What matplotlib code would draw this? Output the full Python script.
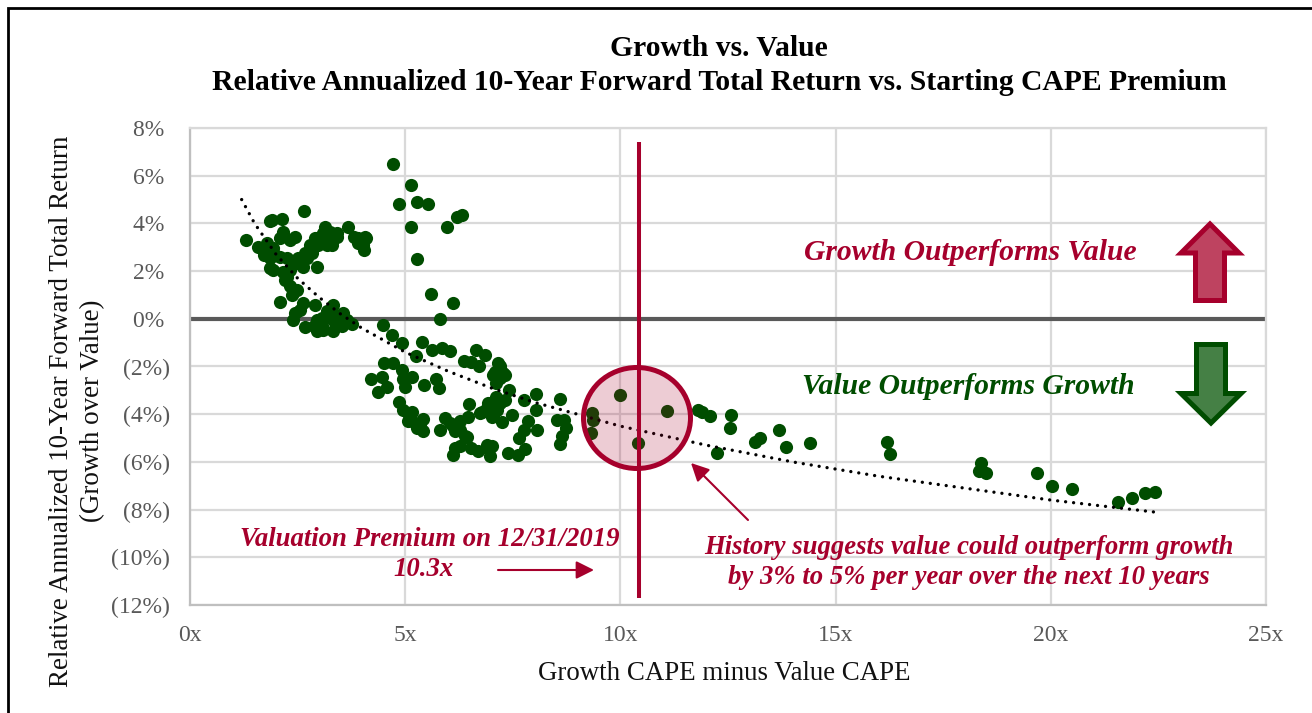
import matplotlib
matplotlib.use("Agg")
import matplotlib.pyplot as plt
from matplotlib.patches import Ellipse, Polygon, Rectangle
from matplotlib.ticker import FuncFormatter

# Values: CAPE premium (x) and relative return in % (y)
premium = [
    1.29, 1.59, 1.72, 1.86, 1.80, 1.94, 2.09, 2.25, 1.86, 1.90, 2.13, 2.65, 2.17, 2.09, 2.32, 2.44,
    1.86, 1.94, 2.17, 2.21, 2.32, 2.40, 2.36, 2.48, 2.10, 2.63, 2.56, 2.44, 2.40, 2.90, 2.67, 2.94,
    3.06, 2.94, 3.18, 3.33, 3.56, 3.33, 3.52, 3.32, 3.77, 3.18, 3.41, 2.52, 2.63, 2.71, 2.94, 2.59,
    2.79, 2.90, 3.02, 3.14, 3.18, 3.29, 3.41, 3.25, 3.68, 3.80, 4.07, 4.09, 4.03, 4.05, 3.91, 2.83,
    2.98, 4.72, 5.14, 4.86, 5.27, 5.52, 5.14, 5.96, 6.20, 6.31, 5.27, 5.59, 6.11, 5.82,
    4.49, 4.69, 4.93, 5.24, 5.39, 5.62, 5.85, 6.03, 6.64, 6.85, 6.37, 6.54, 6.71, 7.16, 7.28, 7.09,
    7.20, 7.12, 4.51, 4.72, 4.21, 4.45, 4.36, 4.57, 4.93, 5.15, 4.96, 4.99, 5.44, 5.72, 5.79, 4.86,
    4.96, 5.15, 5.07, 5.27, 5.42, 5.42, 5.92, 5.81, 6.16, 6.27, 6.47, 6.49, 6.78, 6.93, 7.11, 7.32,
    7.41, 7.75, 8.05, 8.60, 8.05, 7.05, 7.24, 7.47, 7.86, 8.06, 7.75, 7.64, 7.78, 7.63, 7.38, 8.52,
    8.69, 8.73, 8.64, 8.60, 6.43, 6.27, 6.10, 6.54, 6.68, 6.89, 7.01, 6.97, 9.35, 9.37, 9.32, 9.98,
    10.41, 11.08, 11.80, 11.90, 12.08, 12.24, 12.57, 12.55, 13.13, 13.24, 13.69, 13.85, 14.40,
    16.19, 16.26, 18.38, 18.33, 18.49, 19.68, 20.03, 20.49, 21.56, 21.89, 22.20, 22.42,
    # inside the dense clumps
    6.89, 7.13, 7.01, 6.74, 7.20, 6.12, 6.04, 6.27, 6.39, 5.07, 5.23, 5.34, 6.89, 6.16, 7.16, 7.32, 7.20, 7.05,
    3.02, 3.10, 3.25, 2.90, 3.18, 3.41, 2.67, 2.48, 2.63, 2.32, 1.74, 1.86, 1.98, 2.25, 3.06, 3.25, 3.49, 3.64,
    2.87, 3.10, 3.91,
]
rel_return = [
    3.31, 3.03, 2.68, 2.54, 3.17, 2.96, 2.61, 2.54, 4.08, 4.15, 4.18, 4.51, 3.66, 3.38, 3.31, 3.42,
    2.12, 2.05, 1.98, 1.64, 1.36, 1.08, 1.01, 1.22, 0.71, 0.68, 0.38, 0.24, -0.07, 0.59, -0.35, -0.53,
    -0.32, -0.04, 0.31, 0.59, 0.24, -0.04, -0.32, -0.50, -0.21, 0.10, 0.10, 2.54, 2.19, 2.54, 2.19, 2.33,
    3.10, 3.38, 3.31, 3.87, 3.59, 3.10, 3.59, 3.38, 3.84, 3.45, 3.45, 3.38, 3.10, 2.89, 3.17, 2.75,
    3.10, 6.49, 5.60, 4.82, 4.89, 4.82, 3.87, 3.87, 4.25, 4.35, 2.50, 1.05, 0.66, 0.00,
    -0.25, -0.67, -1.02, -1.55, -0.98, -1.30, -1.23, -1.33, -1.30, -1.52, -1.78, -1.83, -2.00, -1.86, -2.28, -2.21,
    -2.49, -2.70, -1.86, -1.86, -2.53, -2.45, -3.05, -2.84, -2.14, -2.42, -2.53, -2.88, -2.77, -2.52, -2.91, -3.49,
    -3.82, -3.89, -4.28, -4.58, -4.19, -4.70, -4.17, -4.65, -4.72, -4.30, -4.10, -3.56, -3.89, -3.54, -3.26, -3.40,
    -3.00, -3.40, -3.14, -3.35, -3.82, -4.02, -4.33, -4.05, -4.30, -4.65, -4.65, -5.00, -5.47, -5.70, -5.63, -4.23,
    -4.26, -4.58, -4.93, -5.26, -4.96, -5.35, -5.70, -5.42, -5.56, -5.28, -5.35, -5.77, -3.96, -4.26, -4.78, -3.21,
    -5.20, -3.86, -3.82, -3.90, -4.07, -5.62, -4.03, -4.57, -5.16, -4.99, -4.65, -5.37, -5.20,
    -5.16, -5.66, -6.04, -6.40, -6.46, -6.46, -7.00, -7.13, -7.70, -7.50, -7.30, -7.25,
    # inside the dense clumps
    -3.75, -3.81, -4.10, -3.96, -3.54, -4.51, -4.37, -4.65, -4.93, -3.96, -4.37, -4.51, -5.42, -5.42, -2.35, -2.35, -2.00, -2.35,
    3.45, 3.59, 3.66, 3.10, 3.10, 3.45, 2.75, 2.33, 2.54, 2.05, 2.82, 2.89, 2.68, 1.77, 0.03, 0.17, -0.11, -0.04,
    -0.32, -0.46, 3.38,
]
trend_x = [1.2, 1.5, 2, 2.5, 3, 3.5, 4, 5, 6, 7, 8, 9, 10, 12, 14, 16, 18, 20, 22.4]
trend_y = [5.0, 4.0, 2.7, 1.7, 0.9, 0.2, -0.4, -1.4, -2.2, -2.9, -3.5, -4.0, -4.5, -5.3, -6.0, -6.6, -7.1, -7.6, -8.1]
premium_2019 = 10.44

x_ticks = [0, 5, 10, 15, 20, 25]
y_ticks = [-12, -10, -8, -6, -4, -2, 0, 2, 4, 6, 8]

RED = "#A6002C"
GREEN = "#004D00"
GRID = "#D9D9D9"
W, H = 1312, 713

plt.rcParams["font.family"] = ["Liberation Serif", "DejaVu Serif"]

fig = plt.figure(figsize=(W / 100, H / 100), dpi=100)
ax = fig.add_axes([190 / W, 1 - 605 / H, (1266 - 190) / W, (605 - 128) / H])


def pct(v, _):
    return f"({abs(v):.0f}%)" if v < 0 else f"{v:.0f}% "


ax.scatter(premium, rel_return, s=90, color=GREEN, linewidths=0, zorder=3)
ax.plot(trend_x, trend_y, color="black", lw=2.4, ls=(0, (0.01, 2.4)), dash_capstyle="round", zorder=4)
ax.axhline(0, color="#595959", lw=3, zorder=2)

ax.set_xlim(0, 25)
ax.set_ylim(-12, 8)
ax.set_xticks(x_ticks)
ax.set_yticks(y_ticks)
ax.xaxis.set_major_formatter(FuncFormatter(lambda v, _: f"{v:.0f}x"))
ax.yaxis.set_major_formatter(FuncFormatter(pct))
ax.grid(True, color=GRID, lw=1.6, zorder=0)
ax.set_axisbelow(True)
ax.tick_params(length=0, labelsize=17, colors="#595959", pad=14.5)
for side in ax.spines.values():
    side.set_color(GRID)
    side.set_linewidth(1.6)
ax.spines["left"].set_color("#BFBFBF")
ax.spines["bottom"].set_color("#BFBFBF")


# Overlays below are placed in picture pixels, like the drawn shapes on the original
def fx(x):
    return x / W


def fy(y):
    return 1 - y / H


fig.add_artist(Rectangle((fx(8), fy(760)), fx(1400), 752 / H, transform=fig.transFigure,
                         fill=False, ec="black", lw=2, clip_on=True))

ax.plot([premium_2019, premium_2019], [7.42, -11.7], color=RED, lw=2.9, zorder=6, solid_capstyle="butt")

fig.add_artist(Ellipse((fx(637), fy(418)), 107 / W, 101 / H, transform=fig.transFigure,
                       fc=RED, ec="none", alpha=0.2, zorder=5))
fig.add_artist(Ellipse((fx(637), fy(418)), 107 / W, 101 / H, transform=fig.transFigure,
                       fc="none", ec=RED, lw=3.6, zorder=6))

up = [(1210, 224), (1239, 253), (1224.5, 253), (1224.5, 300.5), (1195.5, 300.5), (1195.5, 253), (1181, 253)]
down = [(1196.5, 344.5), (1225.5, 344.5), (1225.5, 393.5), (1241, 393.5), (1211, 423), (1181, 393.5), (1196.5, 393.5)]
fig.add_artist(Polygon([(fx(a), fy(b)) for a, b in up], closed=True, transform=fig.transFigure,
                       fc="#BE4360", ec=RED, lw=3.6, joinstyle="miter", zorder=5))
fig.add_artist(Polygon([(fx(a), fy(b)) for a, b in down], closed=True, transform=fig.transFigure,
                       fc="#458045", ec=GREEN, lw=3.6, joinstyle="miter", zorder=5))

fig.text(fx(719), fy(48), "Growth vs. Value", fontsize=21.3, fontweight="bold", ha="center", va="center")
fig.text(fx(719), fy(82), "Relative Annualized 10-Year Forward Total Return vs. Starting CAPE Premium",
         fontsize=21.3, fontweight="bold", ha="center", va="center")
fig.text(fx(724), fy(673), "Growth CAPE minus Value CAPE", fontsize=19.4, ha="center", va="center", color="#111111")
fig.text(fx(77.5), fy(411), "Relative Annualized 10-Year Forward Total Return\n(Growth over Value)", fontsize=19.45,
         rotation=90, ha="center", va="center", linespacing=1.32, color="#111111")

style = dict(fontsize=21.3, fontweight="bold", fontstyle="italic", ha="center", va="center", zorder=7)
fig.text(fx(970), fy(253), "Growth Outperforms Value", color=RED, **style)
fig.text(fx(968), fy(387), "Value Outperforms Growth", color=GREEN, **style)
style["fontsize"] = 19.3
fig.text(fx(430), fy(539), "Valuation Premium on 12/31/2019", color=RED, **style)
fig.text(fx(423), fy(569), "10.3x", color=RED, **style)
fig.text(fx(969), fy(547), "History suggests value could outperform growth", color=RED, **style)
fig.text(fx(969), fy(578), "by 3% to 5% per year over the next 10 years", color=RED, **style)

head = dict(arrowstyle="-|>,head_length=0.6,head_width=0.3", color=RED, lw=1.5, mutation_scale=18, shrinkA=0, shrinkB=0)
ax.annotate("", xy=(fx(594), fy(570)), xytext=(fx(498), fy(570)), xycoords="figure fraction",
            textcoords="figure fraction", arrowprops=head)
ax.annotate("", xy=(fx(691), fy(463)), xytext=(fx(748), fy(520)), xycoords="figure fraction",
            textcoords="figure fraction", arrowprops=head)

fig.savefig("out.png", dpi=100)
